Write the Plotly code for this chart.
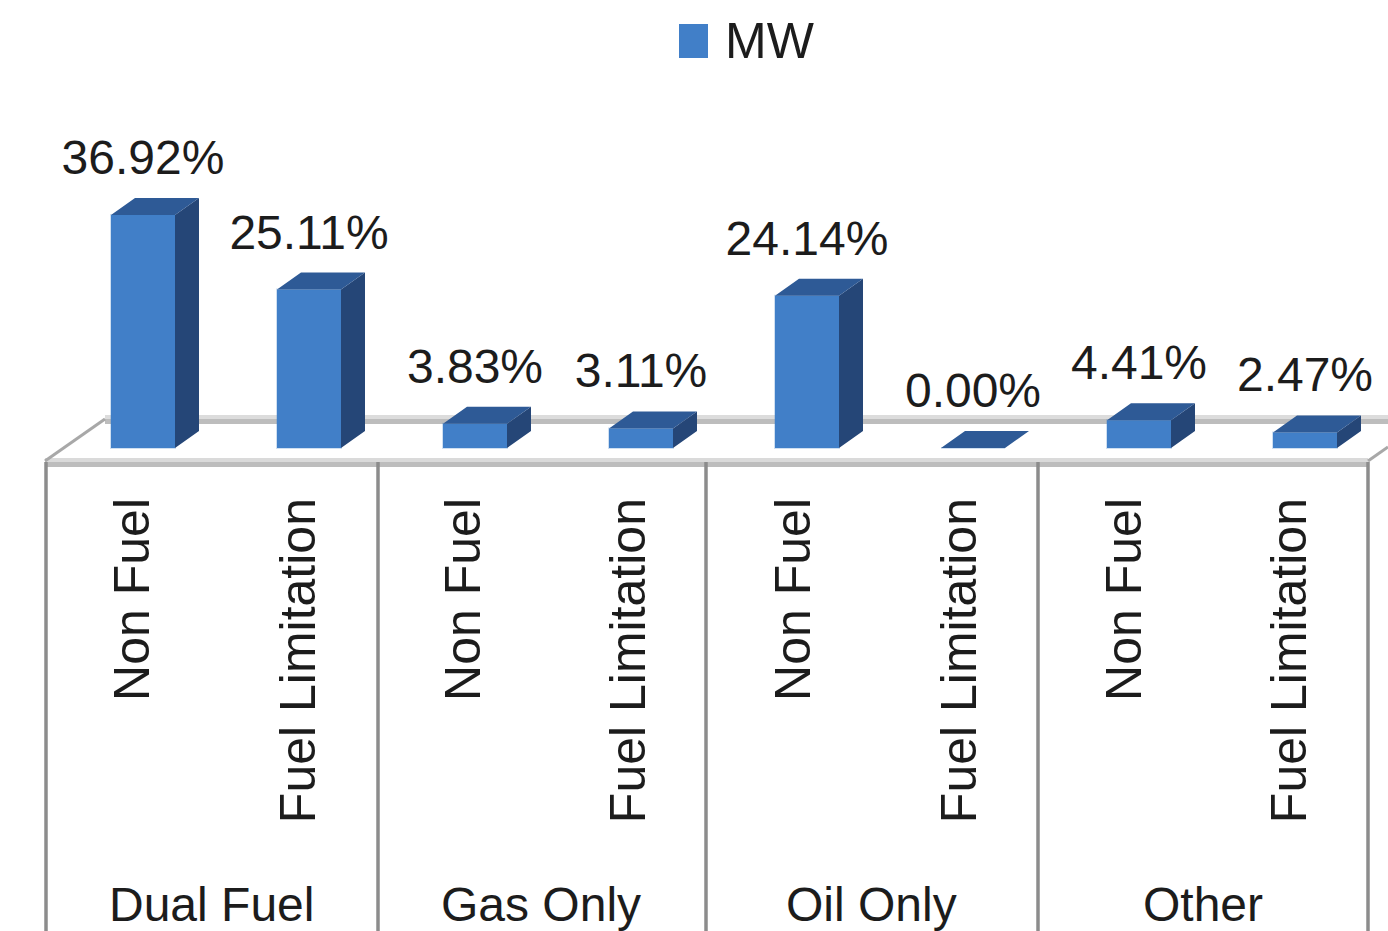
import plotly.graph_objects as go

group_names = ['Dual Fuel', 'Gas Only', 'Oil Only', 'Other']
causes = ['Non Fuel', 'Fuel Limitation'] * 4
mw_share = [36.92, 25.11, 3.83, 3.11, 24.14, 0.00, 4.41, 2.47]
series_name = 'MW'

W, H = 1388, 931
PLOT_L, PLOT_R, PLOT_B = 45, 1368, 462
Y_ZERO = 448
Y_SCALE = 6.31
BAR_STEP = 166
BAR_FIRST = 143
LABEL_STEP = 165.3
LABEL_FIRST = 133
GROUP_CENTERS = [212, 541, 871, 1203]
DIVIDERS = [46, 378, 706, 1038, 1368]

FRONT = '#417fc8'
TOP = '#2e5a96'
SIDE = '#254677'
FONT = dict(family='Liberation Sans', size=48, color='#1c1c1c')
TICK_FONT = dict(family='Liberation Sans', size=50, color='#1c1c1c')

# depth of the fake 3d box, in axis units
DX = 24 / BAR_STEP
DY = 17 / Y_SCALE
BAR_W = 64 / BAR_STEP


def paper_x(px):
    return (px - PLOT_L) / (PLOT_R - PLOT_L)


def paper_y(py):
    return 1 - py / PLOT_B


positions = list(range(len(mw_share)))

side_x, side_y, top_x, top_y = [], [], [], []
for i, v in enumerate(mw_share):
    left, right = i - BAR_W / 2, i + BAR_W / 2
    side_x += [right, right + DX, right + DX, right, None]
    side_y += [0, DY, v + DY, v, None]
    top_x += [left, left + DX, right + DX, right, None]
    top_y += [v, v + DY, v + DY, v, None]

fig = go.Figure()

# invisible trace, it only carries the axis with the rotated labels
fig.add_trace(go.Bar(x=positions, y=mw_share, opacity=0, hoverinfo='skip', showlegend=False))

fig.add_trace(go.Bar(
    x=positions, y=mw_share, width=BAR_W, name=series_name,
    marker=dict(color=FRONT, line=dict(width=2, color='rgba(65,127,200,0.25)')),
    xaxis='x2', showlegend=False
))
fig.add_trace(go.Scatter(x=side_x, y=side_y, fill='toself', mode='none', fillcolor=SIDE,
                         xaxis='x2', showlegend=False, hoverinfo='skip'))
fig.add_trace(go.Scatter(x=top_x, y=top_y, fill='toself', mode='none', fillcolor=TOP,
                         xaxis='x2', showlegend=False, hoverinfo='skip'))
fig.add_trace(go.Scatter(
    x=positions,
    y=[v + DY + 1.9 for v in mw_share],
    text=[f'{v:.2f}%' for v in mw_share],
    mode='text', textposition='top center', textfont=FONT, cliponaxis=False,
    xaxis='x2', showlegend=False, hoverinfo='skip'
))


def band(x0, x1, y0, y1, color):
    fig.add_shape(type='rect', xref='paper', yref='paper', layer='below',
                  x0=paper_x(x0), x1=paper_x(x1), y0=paper_y(y0), y1=paper_y(y1),
                  fillcolor=color, line_width=0)


def diag(x0, y0, x1, y1, color='#a8a8a8', width=3):
    fig.add_shape(type='line', xref='paper', yref='paper', layer='below',
                  x0=paper_x(x0), x1=paper_x(x1), y0=paper_y(y0), y1=paper_y(y1),
                  line=dict(color=color, width=width))


band(105, 1388, 415, 419, '#dcdcdc')
band(105, 1388, 419, 424, '#bdbdbd')
band(45, 1368, 458, 462, '#dadada')
band(45, 1368, 462, 467, '#bdbdbd')
diag(45, 461, 105, 419)
diag(1368, 461, 1388, 447)

for d in DIVIDERS:
    diag(d, 462, d, H, color='#8c8c8c', width=3.5)

for name, center in zip(group_names, GROUP_CENTERS):
    fig.add_annotation(text=name, xref='paper', yref='paper', x=paper_x(center), y=paper_y(904),
                       xanchor='center', yanchor='middle', showarrow=False, font=FONT)

# legend swatch is much bigger than what the native legend draws
fig.add_shape(type='rect', xref='paper', yref='paper',
              x0=paper_x(679), x1=paper_x(708), y0=paper_y(24), y1=paper_y(58),
              fillcolor=FRONT, line_width=0)
fig.add_annotation(text=series_name, xref='paper', yref='paper', x=paper_x(723), y=paper_y(41),
                   xanchor='left', yanchor='middle', showarrow=False,
                   font=dict(family='Liberation Sans', size=50, color='#1c1c1c'))

fig.update_layout(
    width=W, height=H,
    margin=dict(l=PLOT_L, r=W - PLOT_R, t=0, b=H - PLOT_B),
    paper_bgcolor='white', plot_bgcolor='rgba(0,0,0,0)',
    showlegend=False, font=FONT,
    xaxis=dict(
        range=[(PLOT_L - LABEL_FIRST) / LABEL_STEP, (PLOT_R - LABEL_FIRST) / LABEL_STEP],
        tickmode='array', tickvals=positions, ticktext=causes,
        tickangle=-90, tickfont=TICK_FONT,
        showgrid=False, zeroline=False, showline=False,
        ticks='outside', ticklen=15, tickcolor='rgba(0,0,0,0)', automargin=False
    ),
    xaxis2=dict(
        overlaying='x', anchor='y', visible=False,
        range=[(PLOT_L - BAR_FIRST) / BAR_STEP, (PLOT_R - BAR_FIRST) / BAR_STEP]
    ),
    yaxis=dict(visible=False, range=[(Y_ZERO - PLOT_B) / Y_SCALE, Y_ZERO / Y_SCALE])
)

fig.write_html('out.html', config={'displayModeBar': False},
               post_script="document.body.style.margin='0';")
